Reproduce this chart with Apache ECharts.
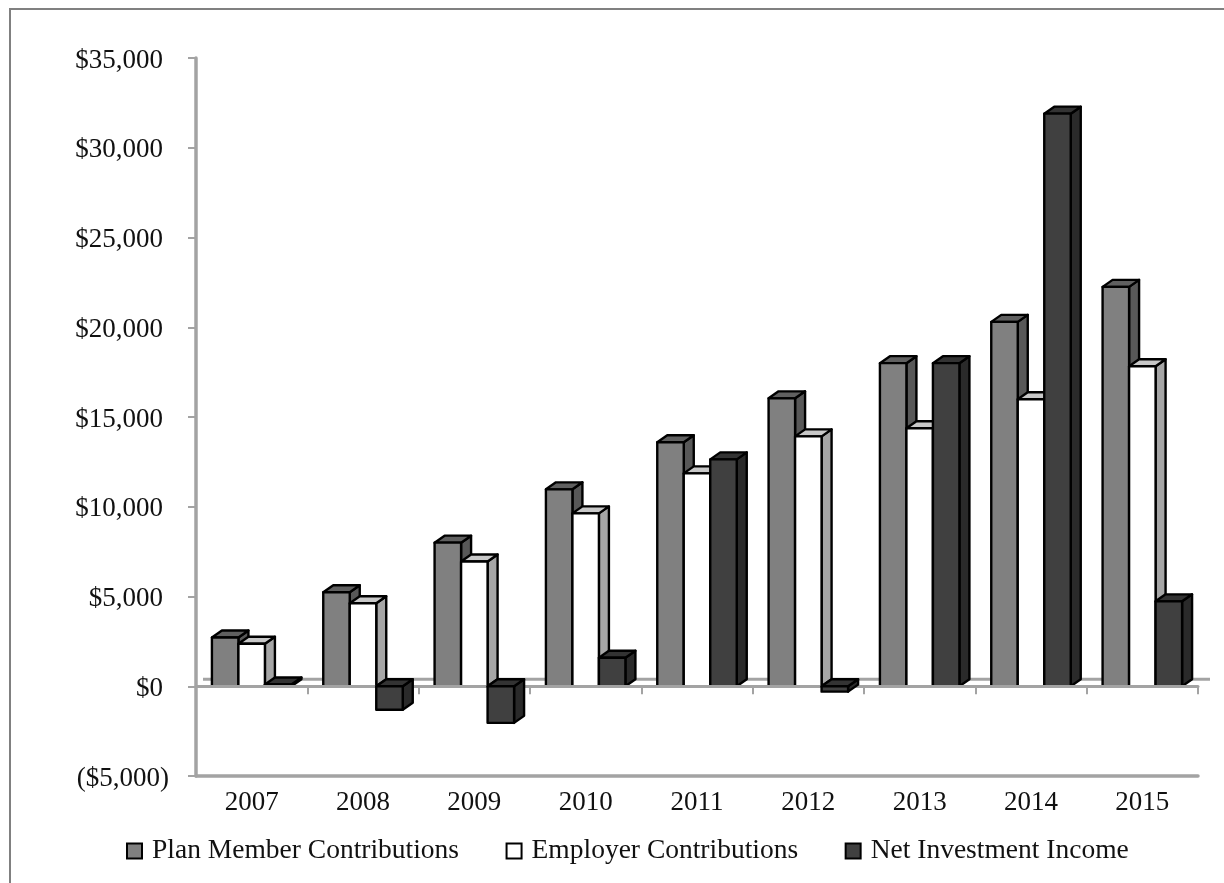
<!DOCTYPE html>
<html><head><meta charset="utf-8">
<style>html,body{margin:0;padding:0;background:#fff}#c{width:1224px;height:883px}</style>
<script src="https://cdn.jsdelivr.net/npm/echarts@6/dist/echarts.min.js"></script>
</head><body><div id="c"></div>
<script>
const years = ['2007','2008','2009','2010','2011','2012','2013','2014','2015'];
const planMember = [2720,5240,8000,10970,13590,16040,18000,20300,22250];
const employer = [2370,4620,6950,9630,11860,13920,14370,15990,17830];
const netInvestment = [100,-1310,-2040,1590,12640,-300,18000,31900,4730];

const FONT = '"Liberation Serif", serif';
const AXIS = '#a3a3a3';
const DX = 10, DY = 7;

function rows(values, keep) {
  return values.map((v, i) => [i, v]).filter(r => keep(r[1]));
}
function barRenderer(slot, front, side, top) {
  return function (params, api) {
    const cat = api.value(0), val = api.value(1);
    const base = api.coord([cat, 0]);
    const tip = api.coord([cat, val]);
    const bw = api.size([1, 0])[0] * 0.238;
    const l = base[0] - 1.5 * bw + slot * bw, r = l + bw;
    const t = Math.min(base[1], tip[1]), b = Math.max(base[1], tip[1]);
    const stroke = { stroke: '#000', lineWidth: 2.4, lineJoin: 'round' };
    return {
      type: 'group', children: [
        { type: 'polygon', shape: { points: [[r, t], [r + DX, t - DY], [r + DX, b - DY], [r, b]] }, style: { fill: side, ...stroke } },
        { type: 'polygon', shape: { points: [[l, t], [l + DX, t - DY], [r + DX, t - DY], [r, t]] }, style: { fill: top, ...stroke } },
        { type: 'rect', shape: { x: l, y: t, width: bw, height: b - t }, style: { fill: front, ...stroke } }
      ]
    };
  };
}
function barSeries(name, data, slot, cols, z) {
  return {
    type: 'custom', name, data, z, silent: true, clip: false,
    encode: { x: 0, y: 1 },
    itemStyle: { color: cols[0], borderColor: '#000', borderWidth: 2 },
    renderItem: barRenderer(slot, cols[0], cols[1], cols[2])
  };
}
const planCols = ['#808080', '#585858', '#606060'];
const empCols = ['#ffffff', '#a6a6a6', '#c8c8c8'];
const netCols = ['#404040', '#2a2a2a', '#333333'];
const labelText = { fontFamily: FONT, fontSize: 27, color: '#111' };

const chart = echarts.init(document.getElementById('c'), null, { renderer: 'canvas' });
chart.setOption({
  animation: false,
  backgroundColor: '#fff',
  graphic: [{ type: 'rect', silent: true, left: 9, top: 8, shape: { width: 1300, height: 900 }, style: { fill: 'transparent', stroke: '#808080', lineWidth: 2 } }],
  grid: { left: 196, right: 26, top: 58, bottom: 107, containLabel: false },
  legend: {
    left: 121, top: 832, itemWidth: 15, itemHeight: 15, itemGap: 46.5,
    icon: 'rect', selectedMode: false,
    data: ['Plan Member Contributions', 'Employer Contributions', 'Net Investment Income'],
    textStyle: { fontFamily: FONT, fontSize: 27.5, color: '#111', padding: [0, 0, 2, 5] }
  },
  xAxis: [
    { type: 'category', data: years, position: 'bottom',
      axisLine: { onZero: false, lineStyle: { color: AXIS, width: 3.5 } },
      axisTick: { show: false },
      axisLabel: { fontFamily: FONT, fontSize: 27, color: '#111', margin: 13 } },
    { type: 'category', data: years, position: 'bottom', z: 4,
      axisLine: { onZero: true, onZeroAxisIndex: 0, lineStyle: { color: AXIS, width: 3 } },
      axisTick: { show: true, length: 8, lineStyle: { color: AXIS, width: 2 } },
      axisLabel: { show: false } }
  ],
  yAxis: {
    type: 'value', min: -5000, max: 35000, interval: 5000,
    splitLine: { show: false },
    axisLine: { show: true, onZero: false, lineStyle: { color: AXIS, width: 3.5 } },
    axisTick: { show: true, length: 8, lineStyle: { color: AXIS, width: 2 } },
    axisLabel: { ...labelText, margin: 27,
      rich: {
        pos: { ...labelText, padding: [5, 6, 0, 0] },
        neg: { ...labelText, padding: [5, 0, 0, 0] }
      },
      formatter: v => v < 0 ? '{neg|($' + Math.abs(v).toLocaleString('en-US') + ')}' : '{pos|$' + v.toLocaleString('en-US') + '}' }
  },
  series: [
    { type: 'custom', name: 'floor', data: [[0, 0]], z: 1, silent: true, clip: false, encode: { x: 0, y: 1 },
      renderItem(params, api) {
        const band = api.size([1, 0])[0];
        const a = api.coord([0, 0]), b = api.coord([years.length - 1, 0]);
        return { type: 'line', shape: { x1: a[0] - band / 2 + 7, y1: a[1] - DY, x2: b[0] + band / 2 + 12, y2: b[1] - DY }, style: { stroke: AXIS, lineWidth: 3 } };
      } },
    barSeries('Plan Member Contributions', rows(planMember, () => true), 0, planCols, 2),
    barSeries('Employer Contributions', rows(employer, () => true), 1, empCols, 3),
    barSeries('Net Investment Income', rows(netInvestment, v => v >= 0), 2, netCols, 3),
    barSeries('Net Investment Income (losses)', rows(netInvestment, v => v < 0), 2, netCols, 5)
  ]
});
</script></body></html>
